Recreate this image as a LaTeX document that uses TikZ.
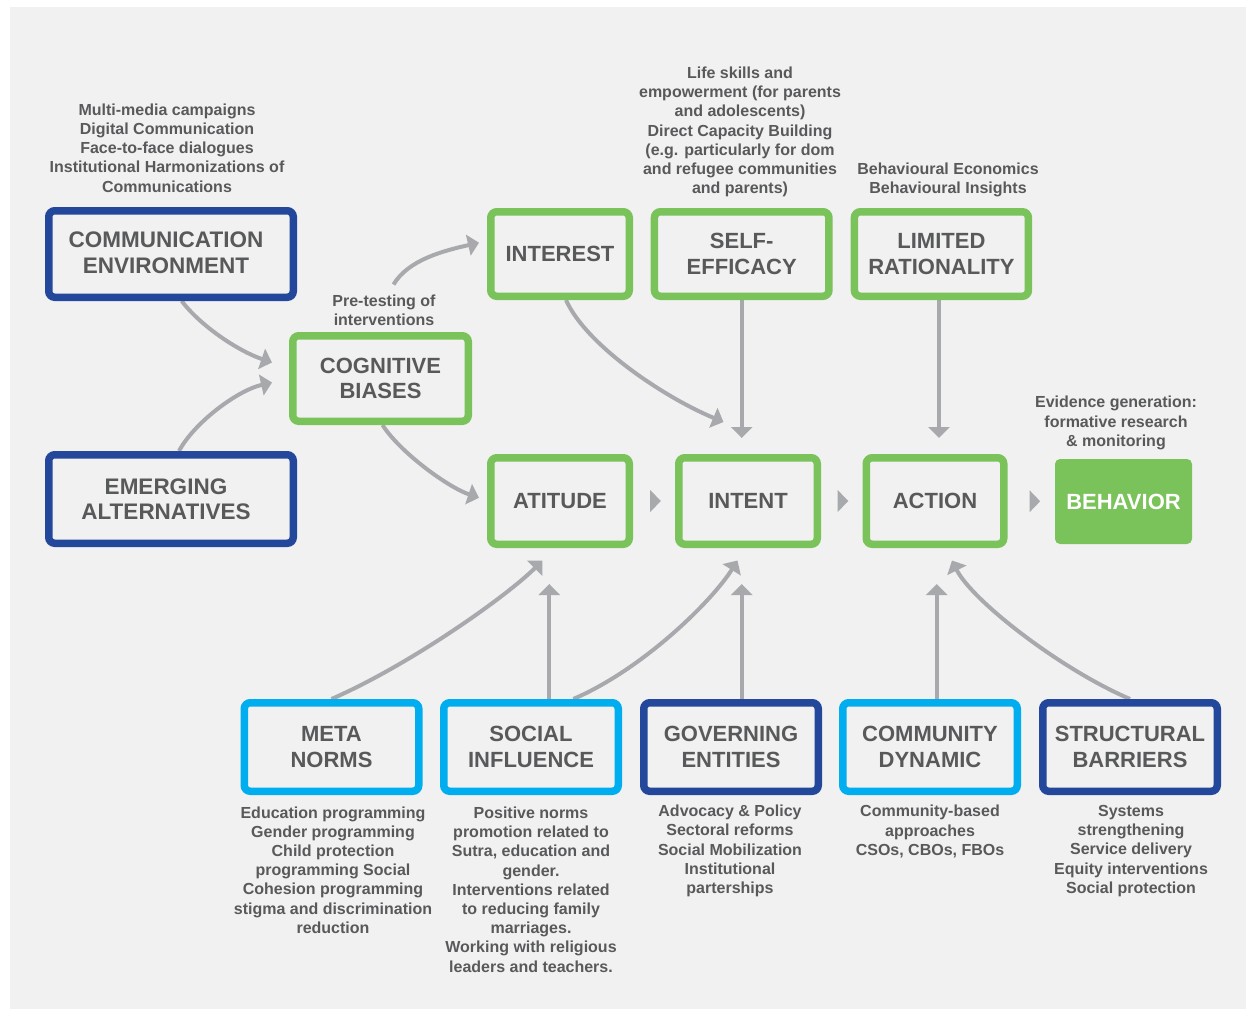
\documentclass[tikz,border=0pt]{standalone}
\usepackage{fontspec}
\setmainfont{Liberation Sans}
\usetikzlibrary{arrows.meta,calc}
\definecolor{panel}{HTML}{F1F1F1}
\definecolor{dblue}{HTML}{22479B}
\definecolor{lblue}{HTML}{00AEEF}
\definecolor{lgreen}{HTML}{7AC25A}
\definecolor{agray}{HTML}{A7A9AC}
\definecolor{tgray}{HTML}{58595B}
\pgfdeclarelayer{back}
\pgfdeclarelayer{arr}
\pgfsetlayers{back,arr,main}
\begin{document}
\begin{tikzpicture}[x=1pt,y=-1pt,
  box/.style={draw, line width=7.5pt, rounded corners=6pt, fill=panel, text=tgray,
    font=\fontsize{22}{25.5}\selectfont\bfseries, align=center, inner sep=0pt},
  gbox/.style={box, draw=lgreen},
  bbox/.style={box, draw=dblue},
  cbox/.style={box, draw=lblue},
  inlabel/.style={text=tgray, font=\fontsize{22.5}{25.5}\selectfont\bfseries, align=center, inner sep=0pt},
  note/.style={text=tgray, font=\fontsize{16}{19.2}\selectfont\bfseries, align=center, inner sep=0pt},
  conn/.style={draw=agray, line width=4pt, -{Triangle[length=11pt,width=21pt]}},
  flag/.style={fill=agray}
]
\useasboundingbox (0,0) rectangle (1246,1010);
\begin{pgfonlayer}{back}
\fill[white] (0,0) rectangle (1246,1010);
\fill[panel] (10,7) rectangle (1246,1009);
\end{pgfonlayer}

% left column
\node[bbox, minimum width=244.5pt, minimum height=86.5pt,
  label={[inlabel, xshift=-5pt, yshift=1.5pt]center:COMMUNICATION\\ENVIRONMENT}] (comm) at (171,254) {};
\node[bbox, minimum width=244.5pt, minimum height=88.5pt,
  label={[inlabel, xshift=-5pt, yshift=0pt]center:EMERGING\\ALTERNATIVES}] (emerg) at (171,499) {};
\node[gbox, minimum width=175.5pt, minimum height=85.5pt] (cog) at (380.5,378.5) {COGNITIVE\\BIASES};

% top row
\node[gbox, minimum width=138.5pt, minimum height=84.5pt] (interest) at (560,254) {INTEREST};
\node[gbox, minimum width=174.5pt, minimum height=84.5pt] (self) at (741.7,254) {SELF-\\EFFICACY};
\node[gbox, minimum width=174pt, minimum height=84.5pt] (limited) at (941.4,254) {LIMITED\\RATIONALITY};

% middle row
\node[gbox, minimum width=138.5pt, minimum height=86.5pt] (atitude) at (560,501) {ATITUDE};
\node[gbox, minimum width=138.5pt, minimum height=86.5pt] (intent) at (748,501) {INTENT};
\node[gbox, minimum width=137.5pt, minimum height=86.5pt] (action) at (935,501) {ACTION};
\node[fill=lgreen, rounded corners=5pt, minimum width=137pt, minimum height=85pt, text=white,
  font=\fontsize{22}{25.5}\selectfont\bfseries, inner sep=0pt] (behavior) at (1123.5,501.5) {BEHAVIOR};

% bottom row
\node[cbox, minimum width=174.5pt, minimum height=88.5pt] (meta) at (331.5,747) {META\\NORMS};
\node[cbox, minimum width=174.5pt, minimum height=88.5pt] (social) at (531,747) {SOCIAL\\INFLUENCE};
\node[bbox, minimum width=174.5pt, minimum height=88.5pt] (govern) at (731,747) {GOVERNING\\ENTITIES};
\node[cbox, minimum width=174.5pt, minimum height=88.5pt] (community) at (930,747) {COMMUNITY\\DYNAMIC};
\node[bbox, minimum width=174.5pt, minimum height=88.5pt] (structural) at (1130,747) {STRUCTURAL\\BARRIERS};

% annotations
\node[note] (nComm) at (167,148) {Multi-media campaigns\\Digital Communication\\Face-to-face dialogues\\Institutional Harmonizations of\\Communications};
\node[note] (nPre) at (384,310) {Pre-testing of\\interventions};
\node[note] (nSelf) at (740,132) {Life skills and\\empowerment (for parents\\and adolescents)\\Direct Capacity Building\\(e.g. particularly for dom\\and refugee communities\\and parents)};
\node[note] (nLim) at (948,180) {Behavioural Economics\\Behavioural Insights};
\node[note] (nEvid) at (1116,423) {Evidence generation:\\formative research\\\& monitoring};
\node[note] (nMeta) at (333,870) {Education programming\\Gender programming\\Child protection\\programming Social\\Cohesion programming\\stigma and discrimination\\reduction};
\node[note] (nSoc) at (531,889.5) {Positive norms\\promotion related to\\Sutra, education and\\gender.\\Interventions related\\to reducing family\\marriages.\\Working with religious\\leaders and teachers.};
\node[note] (nGov) at (730,851) {Advocacy \& Policy\\Sectoral reforms\\Social Mobilization\\Institutional\\parterships};
\node[note] (nCom) at (930,831.5) {Community-based\\approaches\\CSOs, CBOs, FBOs};
\node[note] (nStr) at (1131,851) {Systems\\strengthening\\Service delivery\\Equity interventions\\Social protection};

% connectors
\begin{pgfonlayer}{arr}
\draw[conn] ($(comm.south)+(10.7,0)$) .. controls +(18,24) and +(-35,-12) .. ($(cog.west)+(-17,-16)$);
\draw[conn] ($(emerg.north)+(8,0)$) .. controls +(15,-28) and +(-35,8) .. ($(cog.west)+(-17,4)$);
\draw[conn] ($(cog.north)+(13,-47.5)$) .. controls +(15,-25) and +(-35,8) .. ($(interest.west)+(-8,-11.3)$);
\draw[conn] ($(cog.south)+(2,0)$) .. controls +(18,28) and +(-30,-10) .. ($(atitude.west)+(-8,-3.3)$);
\draw[conn] ($(interest.south)+(6,0)$) .. controls +(20,45) and +(-60,-25) .. ($(intent.north)+(-24.5,-32)$);
\draw[conn] (self.south) -- ($(self.south |- intent.north)+(0,-16)$);
\draw[conn] ($(limited.south)+(-2.4,0)$) -- ($(action.north)+(4,-16)$);
\draw[conn] (meta.north) .. controls +(80,-35) and +(-35,35) .. ($(atitude.south)+(-17.5,12.5)$);
\draw[conn] ($(social.north)+(18.3,0)$) -- ($(atitude.south)+(-10.7,36)$);
\draw[conn] ($(social.north)+(42.3,0)$) .. controls +(70,-30) and +(-25,40) .. ($(intent.south)+(-10.5,12.5)$);
\draw[conn] ($(govern.north)+(10.7,0)$) -- ($(intent.south)+(-6.3,36)$);
\draw[conn] ($(community.north)+(6.7,0)$) -- ($(action.south)+(1.7,36)$);
\draw[conn] (structural.north) .. controls +(-70,-30) and +(20,40) .. ($(action.south)+(17,12.5)$);
\end{pgfonlayer}

% flow flags between the middle row
\path (atitude.east) -- (intent.west) coordinate[pos=0.5] (m1);
\path (intent.east) -- (action.west) coordinate[pos=0.5] (m2);
\path (action.east) -- (behavior.west) coordinate[pos=0.5] (m3);
\foreach \m/\dx in {m1/1.5,m2/1.2,m3/3.7}{
  \fill[flag] ($(\m)+(\dx-5.3,-11)$) -- ($(\m)+(\dx+5.3,0)$) -- ($(\m)+(\dx-5.3,11)$) -- cycle;
}
\end{tikzpicture}
\end{document}
